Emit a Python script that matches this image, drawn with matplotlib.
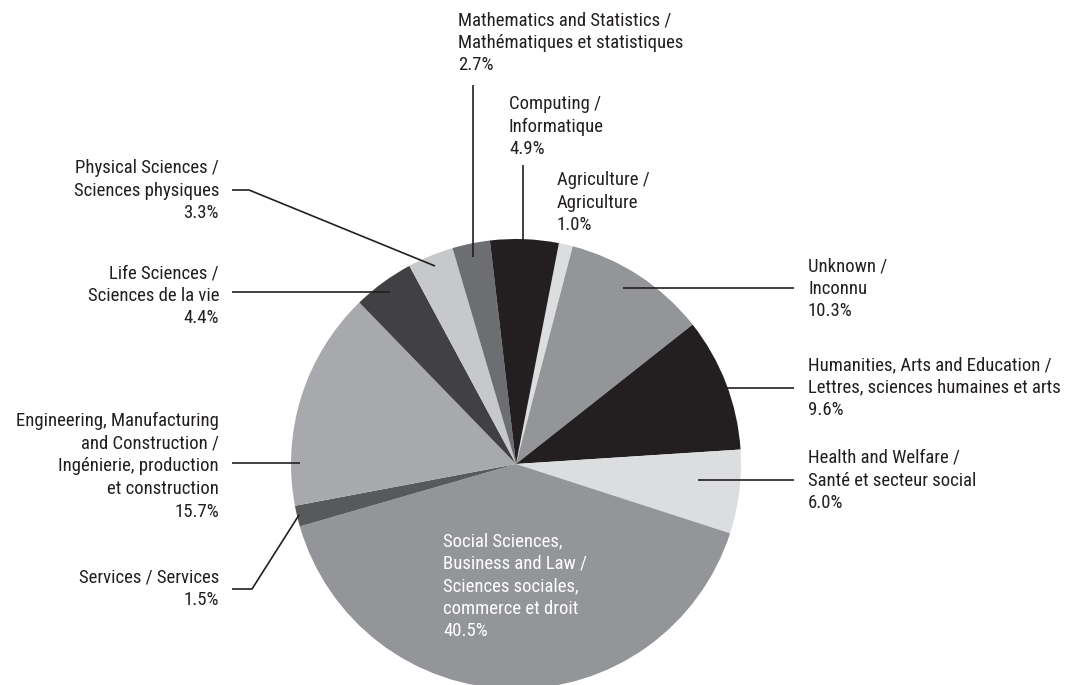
import matplotlib.pyplot as plt

plt.rcParams['font.family'] = ['Roboto Condensed', 'Archivo Narrow', 'PT Sans Narrow',
                               'Roboto', 'DejaVu Sans']

W, H = 1068, 685

# clockwise from the Agriculture slice
shares = [1.0, 10.3, 9.6, 6.0, 40.5, 1.5, 15.7, 4.4, 3.3, 2.7, 4.9]
labels = [
    "Agriculture /\nAgriculture\n1.0%",
    "Unknown /\nInconnu\n10.3%",
    "Humanities, Arts and Education /\nLettres, sciences humaines et arts\n9.6%",
    "Health and Welfare /\nSanté et secteur social\n6.0%",
    "Social Sciences,\nBusiness and Law /\nSciences sociales,\ncommerce et droit\n40.5%",
    "Services / Services\n1.5%",
    "Engineering, Manufacturing\nand Construction /\nIngénierie, production\net construction\n15.7%",
    "Life Sciences /\nSciences de la vie\n4.4%",
    "Physical Sciences /\nSciences physiques\n3.3%",
    "Mathematics and Statistics /\nMathématiques et statistiques\n2.7%",
    "Computing /\nInformatique\n4.9%",
]
colors = ['#dcdddf', '#939598', '#231f20', '#dcdddf', '#939598', '#58595b',
          '#a7a9ac', '#414042', '#c7c8ca', '#6d6e71', '#231f20']

fig = plt.figure(figsize=(W / 100, H / 100), dpi=100)
ax = fig.add_axes([0, 0, 1, 1])

cx, cy, r = 516, H - 464, 225
ax.pie(shares, colors=colors, startangle=79, counterclock=False,
       center=(cx, cy), radius=r, wedgeprops=dict(linewidth=0))
ax.set_xlim(0, W)
ax.set_ylim(0, H)
ax.set_aspect('equal')
ax.axis('off')

ink = '#231f20'
fs = 13.5
ls = 1.33


def label(i, x, y, ha='left', color=ink):
    # y = pixel row of the top of the text block (image coords)
    ax.text(x, H - y, labels[i], ha=ha, va='top', fontsize=fs,
            color=color, linespacing=ls)


def leader(xs, ys):
    ax.plot(xs, [H - v for v in ys], color=ink, lw=1.2, solid_capstyle='butt')


# right side
label(0, 557, 171)
label(1, 808, 257)
leader([623, 794], [288, 288])
label(2, 808, 356)
leader([727, 794], [388, 388])
label(3, 808, 449)
leader([698, 794], [480, 480])
# inside
label(4, 443, 532, color='white')
# left side
label(5, 219, 568, ha='right')
leader([232, 252, 299], [589, 589, 515])
label(6, 219, 412, ha='right')
leader([232, 300], [463, 463])
label(7, 219, 264, ha='right')
leader([232, 390], [292, 292])
label(8, 219, 159, ha='right')
leader([232, 249, 435], [190, 190, 266])
# top
label(9, 458, 11)
leader([473, 473], [85, 257])
label(10, 509, 95)
leader([523, 523], [165, 240])

fig.savefig('out.png', dpi=100)
